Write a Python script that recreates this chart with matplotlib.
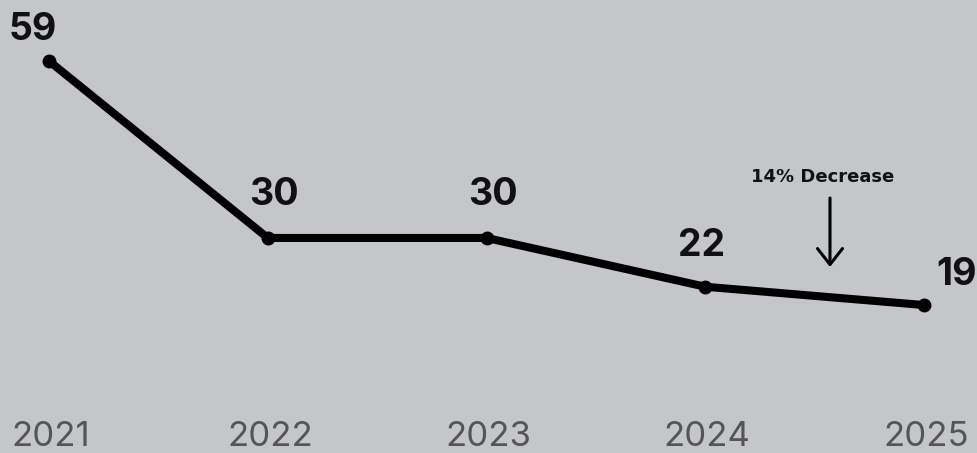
import matplotlib
matplotlib.use("Agg")
import matplotlib.pyplot as plt

years = [2021, 2022, 2023, 2024, 2025]
values = [59, 30, 30, 22, 19]
labels = ["59", "30", "30", "22", "19"]
label_offsets = [(-16, 21), (6, 33), (6, 33), (-4, 31), (33, 20)]
annotation_text = "14% Decrease"

BG = "#c4c6ca"
fig = plt.figure(figsize=(9.77, 4.53), dpi=100, facecolor=BG)
ax = fig.add_axes([0, 0, 1, 1])
ax.set_facecolor(BG)
ax.set_xlim(2020.776, 2025.242)
ax.set_ylim(-5.25, 69)
ax.axis("off")

ax.plot(years, values, color="black", lw=5.8, solid_capstyle="round",
        marker="o", markersize=9, zorder=3)

for x, y, t, (dx, dy) in zip(years, values, labels, label_offsets):
    ax.annotate(t, (x, y), xytext=(dx, dy), textcoords="offset pixels",
                ha="center", va="baseline", fontsize=27, fontweight="bold",
                family="Inter", color="#111111")
    ax.annotate(str(x), (x, 0), xytext=(2, -25), textcoords="offset pixels",
                ha="center", va="baseline", fontsize=25, fontweight="normal",
                family="Inter", color="#555555")

ax.annotate(annotation_text, (2024.537, 453 - 182),
            xycoords=("data", "figure pixels"),
            ha="center", va="baseline", fontsize=13, fontweight="bold",
            family="DejaVu Sans", color="#111111")

ax.annotate("", xy=(2024.57, 453 - 267), xytext=(2024.57, 453 - 198),
            xycoords=("data", "figure pixels"), textcoords=("data", "figure pixels"),
            arrowprops=dict(arrowstyle="->,head_length=1.15,head_width=0.9",
                            color="black", lw=2.2, shrinkA=0, shrinkB=0))

fig.savefig("out.png", dpi=100, facecolor=BG)
